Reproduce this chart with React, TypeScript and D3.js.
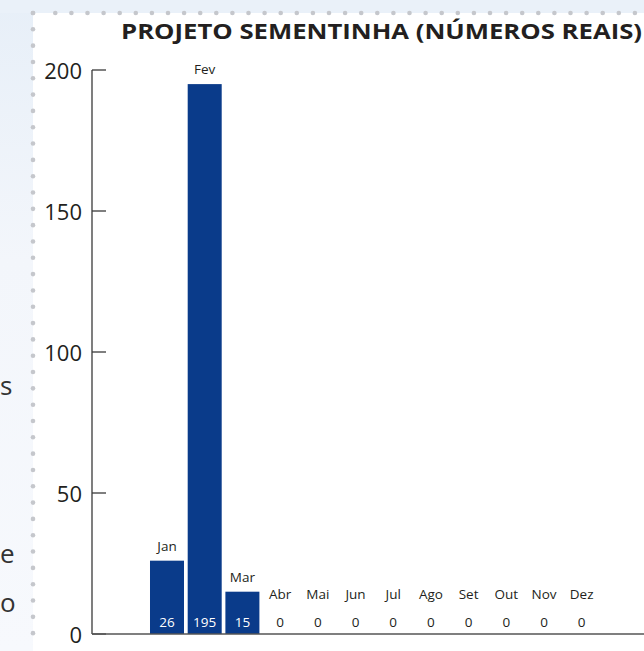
import React from "react";
import * as d3 from "d3";

const months = ["Jan", "Fev", "Mar", "Abr", "Mai", "Jun", "Jul", "Ago", "Set", "Out", "Nov", "Dez"];
const values = [26, 195, 15, 0, 0, 0, 0, 0, 0, 0, 0, 0];
const yTicks = [0, 50, 100, 150, 200];
const title = "PROJETO SEMENTINHA (NÚMEROS REAIS)";
const sideFragments = [
  { t: "s", y: 395 },
  { t: "e", y: 563 },
  { t: "o", y: 612 },
];

const W = 644;
const H = 651;
const FONT = "'Open Sans', 'Noto Sans', sans-serif";

export default function App() {
  const y = d3.scaleLinear().domain([0, 200]).range([634, 70]);
  const x = d3.scaleBand<string>().domain(months).range([146.3, 602.4]).paddingInner(0.098).paddingOuter(0.098);
  const axisX = 92;
  const y0 = y(0);

  const dotsV = d3.range(0, 39).map((i) => 13 + i * 16.32);
  const dotsH = [33].concat(d3.range(0, 37).map((i) => 55.3 + i * 16.1));

  return (
    <svg
      width={W}
      height={H}
      style={{ position: "absolute", left: 0, top: 0, display: "block" }}
      fontFamily={FONT}
    >
      <defs>
        <linearGradient id="leftGrad" x1="0" y1="0" x2="0" y2="1">
          <stop offset="0" stopColor="#e7eff8" />
          <stop offset="0.4" stopColor="#f3f6fb" />
          <stop offset="1" stopColor="#f7f9fd" />
        </linearGradient>
      </defs>
      <rect x={0} y={0} width={W} height={H} fill="url(#leftGrad)" />
      <rect x={0} y={0} width={W} height={13} fill="#eaf1f9" />
      <rect x={33} y={13} width={W - 33} height={H - 13} fill="#ffffff" />

      {sideFragments.map((f, i) => (
        <text key={i} x={0} y={f.y} fontSize={26} fill="#333">
          {f.t}
        </text>
      ))}

      {dotsV.map((d, i) => (
        <circle key={"v" + i} cx={33} cy={d} r={2.3} fill="#c5c7cc" />
      ))}
      {dotsH.map((d, i) => (
        <circle key={"h" + i} cx={d} cy={13} r={2.3} fill="#c5c7cc" />
      ))}

      <text
        x={121}
        y={38.5}
        fontSize={22}
        fontWeight={700}
        fill="#231f20"
        textLength={521}
        lengthAdjust="spacingAndGlyphs"
      >
        {title}
      </text>

      {/* y axis */}
      <line x1={axisX} x2={axisX} y1={y(200)} y2={y0} stroke="#3a3a3a" strokeWidth={1.3} />
      {yTicks.map((t) => (
        <g key={t}>
          <line x1={axisX} x2={axisX + 14} y1={y(t)} y2={y(t)} stroke="#3a3a3a" strokeWidth={1.3} />
          <text x={82} y={y(t) + 9} fontSize={22} fill="#231f20" textAnchor="end">
            {t}
          </text>
        </g>
      ))}

      {/* bars */}
      {months.map((m, i) => {
        const v = values[i];
        const bx = x(m) as number;
        const bw = x.bandwidth();
        const cx = bx + bw / 2;
        const top = y(v);
        const labelY = Math.min(top, y0 - 25) - 10;
        return (
          <g key={m}>
            {v > 0 && <rect x={bx} y={top} width={bw} height={y0 - top} fill="#0a3b8a" />}
            <text x={cx} y={labelY} fontSize={13.5} fill="#231f20" textAnchor="middle">
              {m}
            </text>
            <text x={cx} y={627} fontSize={13.5} fill={v > 0 ? "#ffffff" : "#231f20"} textAnchor="middle">
              {v}
            </text>
          </g>
        );
      })}

      <line x1={axisX} x2={W} y1={y0} y2={y0} stroke="#555" strokeWidth={1.5} />
    </svg>
  );
}
